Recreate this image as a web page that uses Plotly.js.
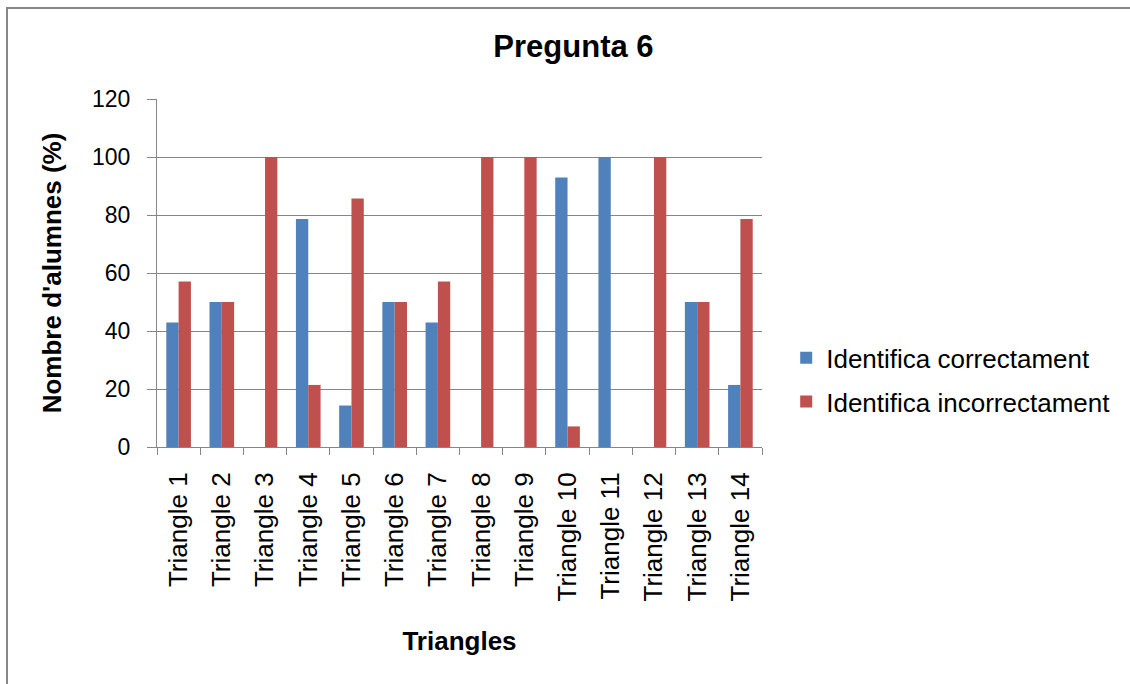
<!DOCTYPE html>
<html>
<head>
<meta charset="utf-8">
<script src="https://cdn.plot.ly/plotly-3.0.1.min.js"></script>
<style>
  html, body { margin: 0; padding: 0; background: #ffffff; overflow: hidden; }
  #chart { width: 1130px; height: 684px; }
</style>
</head>
<body>
<div id="chart"></div>
<script>
const categories = ["Triangle 1","Triangle 2","Triangle 3","Triangle 4","Triangle 5","Triangle 6","Triangle 7",
                    "Triangle 8","Triangle 9","Triangle 10","Triangle 11","Triangle 12","Triangle 13","Triangle 14"];
const correctValues   = [42.9, 50, 0, 78.6, 14.3, 50, 42.9, 0, 0, 92.9, 100, 0, 50, 21.4];
const incorrectValues = [57.1, 50, 100, 21.4, 85.7, 50, 57.1, 100, 100, 7.1, 0, 100, 50, 78.6];
const seriesNames = ["Identifica correctament", "Identifica incorrectament"];
const yTicks = [0, 20, 40, 60, 80, 100, 120];

const FONT = "Liberation Sans, Arial, sans-serif";

const traces = [
  { type: "bar", name: seriesNames[0], x: categories, y: correctValues,
    marker: { color: "#4F81BD" }, legendgroup: "a" },
  { type: "bar", name: seriesNames[1], x: categories, y: incorrectValues,
    marker: { color: "#C0504D" }, legendgroup: "b" }
];

// outer chart frame (left and top edges only visible)
const W = 1130, H = 684, ML = 157, MR = 368, MT = 99, MB = 237;
const pw = W - ML - MR, ph = H - MT - MB;
const px = v => (v - ML) / pw;
const py = v => (H - MB - v) / ph;

const layout = {
  width: W, height: H,
  paper_bgcolor: "#ffffff", plot_bgcolor: "rgba(0,0,0,0)",
  margin: { l: ML, r: MR, t: MT, b: MB },
  barmode: "group", bargap: 0.43, bargroupgap: 0,
  font: { family: FONT, color: "#000000" },
  title: { text: "<b>Pregunta 6</b>", font: { family: FONT, size: 31, color: "#000" },
           xref: "container", x: 0.5075, xanchor: "center",
           yref: "container", y: 1 - 46/684, yanchor: "middle" },
  xaxis: {
    type: "category", tickson: "boundaries", ticks: "outside", ticklen: 7, tickcolor: "#868686",
    showline: true, linecolor: "#868686", linewidth: 1, showgrid: false,
    tickangle: -90, tickfont: { family: FONT, size: 26, color: "#000" }, ticklabelstandoff: 14,
    title: { text: "<b>Triangles</b>", font: { family: FONT, size: 26, color: "#000" }, standoff: 31 },
    fixedrange: true
  },
  yaxis: {
    range: [0, 120], tickvals: yTicks, ticks: "outside", ticklen: 9, tickcolor: "#868686",
    showline: true, linecolor: "#868686", linewidth: 1,
    showgrid: true, gridcolor: "#868686", gridwidth: 1, zeroline: false,
    tickfont: { family: FONT, size: 23, color: "#000" }, ticklabelstandoff: 12,
    title: { text: "<b>Nombre d'alumnes (%)</b>", font: { family: FONT, size: 26, color: "#000" }, standoff: 22 },
    fixedrange: true
  },
  legend: {
    x: 1.04, xanchor: "left", y: 0.193, yanchor: "middle",
    font: { family: FONT, size: 26, color: "#000" },
    traceorder: "grouped", tracegroupgap: 7, bgcolor: "rgba(0,0,0,0)"
  },
  shapes: [
    { type: "line", xref: "paper", yref: "paper", layer: "below",
      x0: px(7), x1: px(7), y0: py(8), y1: py(720), line: { color: "#878787", width: 2 } },
    { type: "line", xref: "paper", yref: "paper", layer: "below",
      x0: px(6), x1: px(1160), y0: py(8), y1: py(8), line: { color: "#878787", width: 2 } }
  ],
  showlegend: true
};

Plotly.newPlot("chart", traces, layout, { displayModeBar: false, staticPlot: true });
</script>
</body>
</html>
